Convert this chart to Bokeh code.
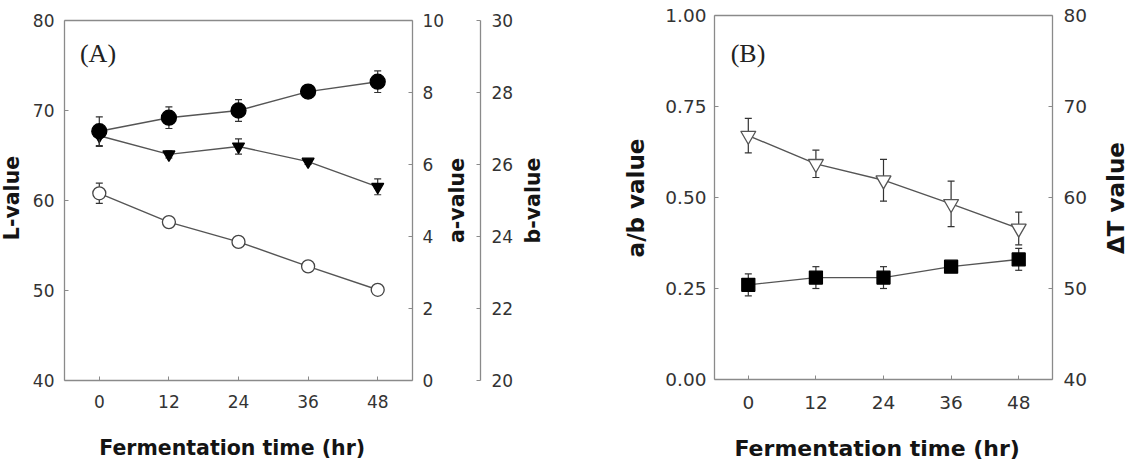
import math
from bokeh.plotting import figure
from bokeh.models import Range1d, LinearAxis, FixedTicker, Label, NumeralTickFormatter
from bokeh.layouts import row
from bokeh.embed import file_html
from bokeh.resources import INLINE

# ---------------- data ----------------
times = [0, 12, 24, 36, 48]
x_ticks = [0, 12, 24, 36, 48]

# Panel A
L_value = [67.7, 69.2, 70.0, 72.1, 73.2]
L_err = [1.6, 1.2, 1.2, 0.5, 1.2]
a_value = [5.20, 4.40, 3.85, 3.17, 2.52]
a_err = [0.28, 0.06, 0.06, 0.06, 0.14]
b_value = [26.80, 26.28, 26.50, 26.08, 25.38]
b_err = [0.30, 0.10, 0.21, 0.08, 0.22]
L_ticks = [40, 50, 60, 70, 80]
a_ticks = [0, 2, 4, 6, 8, 10]
b_ticks = [20, 22, 24, 26, 28, 30]

# Panel B
ab_value = [0.26, 0.28, 0.28, 0.31, 0.33]
ab_err = [0.03, 0.03, 0.03, 0.01, 0.03]
dT_value = [66.8, 63.7, 61.9, 59.3, 56.6]
dT_err = [1.9, 1.5, 2.3, 2.5, 1.8]
ab_ticks = [0, 0.25, 0.5, 0.75, 1.0]
dT_ticks = [40, 50, 60, 70, 80]

AX = "#8a8a8a"
TXT = "#333333"
TITLE = "#141414"
FONT = "DejaVu Sans"
W, H = 568, 462


def ext_range(lo, hi, pad_lo, pad_hi, span):
    # extend a data range so that [lo, hi] occupies `span` pixels of the canvas
    k = (hi - lo) / span
    return Range1d(lo - pad_lo * k, hi + pad_hi * k)


def to_x(px, rng):
    return rng.start + px / W * (rng.end - rng.start)


def to_y(py, rng):
    return rng.end - py / H * (rng.end - rng.start)


def style_axis(ax, ticks, tick_size, standoff):
    ax.ticker = FixedTicker(ticks=ticks)
    ax.axis_line_color = AX
    ax.axis_line_width = 1.3
    ax.major_tick_line_color = AX
    ax.major_tick_in = 4
    ax.major_tick_out = 0
    ax.minor_tick_line_color = None
    ax.major_label_text_font = FONT
    ax.major_label_text_font_size = tick_size
    ax.major_label_text_color = TXT
    ax.major_label_standoff = standoff


def frame_line(p, loc, bounds):
    top = LinearAxis(fixed_location=loc, bounds=bounds, ticker=FixedTicker(ticks=[]),
                     axis_line_color=AX, axis_line_width=1.3,
                     major_tick_line_color=None, minor_tick_line_color=None)
    p.add_layout(top, "above")


def title(p, text, px, py, size, rotated, xr, yr):
    p.add_layout(Label(x=to_x(px, xr), y=to_y(py, yr), text=text,
                       angle=math.pi / 2 if rotated else 0, text_font=FONT,
                       text_font_style="bold", text_font_size=size, text_color=TITLE,
                       text_align="center", text_baseline="middle"))


def tag(p, text, px, py, xr, yr):
    p.add_layout(Label(x=to_x(px, xr), y=to_y(py, yr), text=text, text_font="Liberation Serif",
                       text_font_size="26px", text_align="center", text_baseline="middle",
                       text_color="#222222"))


def series(p, y, err, rng, marker, size, fill, line):
    kw = {} if rng is None else {"y_range_name": rng}
    up = [v + e for v, e in zip(y, err)]
    lo = [v - e for v, e in zip(y, err)]
    p.segment(times, lo, times, up, line_color="#333333", line_width=1.2, **kw)
    p.scatter(times, up, marker="dash", size=7, line_color="#333333", line_width=1.2, **kw)
    p.scatter(times, lo, marker="dash", size=7, line_color="#333333", line_width=1.2, **kw)
    p.line(times, y, line_color="#555555", line_width=1.4, **kw)
    p.scatter(times, y, marker=marker, size=size, fill_color=fill, line_color=line,
              line_width=1.3, **kw)


def base_figure(xr, yr):
    p = figure(width=W, height=H, x_range=xr, y_range=yr, output_backend="svg",
               toolbar_location=None, min_border=0, min_border_left=0, min_border_right=0,
               min_border_top=0, min_border_bottom=0)
    p.xgrid.visible = False
    p.ygrid.visible = False
    p.outline_line_color = None
    p.background_fill_color = "white"
    p.border_fill_color = "white"
    return p


# ---------------- panel A (box 64..412 x 20..380 px) ----------------
xrA = ext_range(-6, 54, 64, W - 412, 348)
yrA = ext_range(40, 80, H - 380, 20, 360)
pA = base_figure(xrA, yrA)
pA.extra_y_ranges = {"a": ext_range(0, 10, H - 380, 20, 360),
                     "b": ext_range(20, 30, H - 380, 20, 360)}

pA.xaxis[0].fixed_location = 40
pA.xaxis[0].bounds = (-6, 54)
style_axis(pA.xaxis[0], x_ticks, "17px", 14)
pA.yaxis[0].fixed_location = -6
pA.yaxis[0].bounds = (40, 80)
style_axis(pA.yaxis[0], L_ticks, "17px", 10)
frame_line(pA, 80, (-6, 54))

axA = LinearAxis(y_range_name="a", fixed_location=54, bounds=(0, 10))
style_axis(axA, a_ticks, "17px", 10)
pA.add_layout(axA, "right")
axB = LinearAxis(y_range_name="b", fixed_location=to_x(480, xrA), bounds=(20, 30))
style_axis(axB, b_ticks, "17px", 11)
pA.add_layout(axB, "right")

series(pA, b_value, b_err, "b", "inverted_triangle", 12, "black", "black")
series(pA, a_value, a_err, "a", "circle", 13, "white", "#444444")
series(pA, L_value, L_err, None, "circle", 15, "black", "black")

title(pA, "L-value", 11, 197.5, "20.5px", True, xrA, yrA)
title(pA, "a-value", 456, 200, "20.5px", True, xrA, yrA)
title(pA, "b-value", 532.5, 200, "20.5px", True, xrA, yrA)
title(pA, "Fermentation time (hr)", 231.7, 447, "20.5px", False, xrA, yrA)
tag(pA, "(A)", 97.5, 53, xrA, yrA)

# ---------------- panel B (box 146..484 x 15..379 px) ----------------
xrB = ext_range(-6, 54, 146, W - 484, 338)
yrB = ext_range(0, 1, H - 379, 15, 364)
pB = base_figure(xrB, yrB)
pB.extra_y_ranges = {"dT": ext_range(40, 80, H - 379, 15, 364)}

pB.xaxis[0].fixed_location = 0
pB.xaxis[0].bounds = (-6, 54)
style_axis(pB.xaxis[0], x_ticks, "18.5px", 16)
pB.yaxis[0].fixed_location = -6
pB.yaxis[0].bounds = (0, 1)
style_axis(pB.yaxis[0], ab_ticks, "18.5px", 8)
pB.yaxis[0].formatter = NumeralTickFormatter(format="0.00")
frame_line(pB, 1, (-6, 54))

axT = LinearAxis(y_range_name="dT", fixed_location=54, bounds=(40, 80))
style_axis(axT, dT_ticks, "18.5px", 11)
pB.add_layout(axT, "right")

series(pB, dT_value, dT_err, "dT", "inverted_triangle", 15, "white", "#555555")
series(pB, ab_value, ab_err, None, "square", 13, "black", "black")

title(pB, "a/b value", 67, 197.5, "23px", True, xrB, yrB)
title(pB, "ΔT value", 547, 197.5, "23px", True, xrB, yrB)
title(pB, "Fermentation time (hr)", 308.7, 448, "22px", False, xrB, yrB)
tag(pB, "(B)", 179.5, 53, xrB, yrB)

layout = row(pA, pB)
open("out.html", "w").write(file_html(layout, INLINE))
